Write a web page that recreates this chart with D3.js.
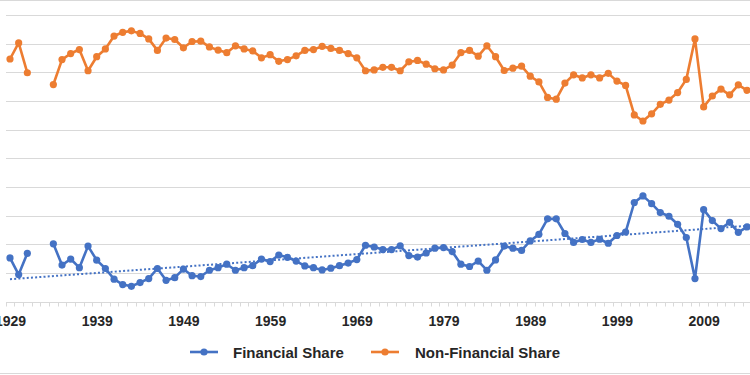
<!DOCTYPE html>
<html>
<head>
<meta charset="utf-8">
<script src="https://cdn.jsdelivr.net/npm/d3@7/dist/d3.min.js"></script>
<style>
  html, body { margin: 0; padding: 0; background: #fff; }
  svg { display: block; }
</style>
</head>
<body>
<svg id="chart" width="750" height="375"></svg>
<script>
// ---- data ----
const years = d3.range(1929, 2015);
const financialShare = [
  15.3, 9.5, 16.9, null, null, 20.2, 12.8, 14.9, 11.9, 19.4,
  14.5, 11.6, 7.9, 6.0, 5.4, 6.7, 8.1, 11.6, 7.5, 8.4,
  11.4, 9.1, 8.8, 11.0, 11.9, 13.1, 11.0, 11.9, 12.6, 14.9,
  14.0, 16.3, 15.5, 14.2, 12.5, 11.9, 11.1, 11.7, 12.6, 13.5,
  14.7, 19.7, 19.1, 18.2, 18.2, 19.5, 16.1, 15.6, 17.0, 18.7,
  18.9, 17.5, 13.1, 12.3, 14.2, 11.0, 14.6, 19.4, 18.7, 17.9,
  21.2, 23.5, 28.9, 28.9, 23.8, 20.7, 21.7, 20.7, 21.8, 20.4,
  23.1, 24.3, 34.6, 36.9, 34.2, 31.1, 29.8, 27.0, 22.4, 8.1,
  32.1, 28.3, 25.5, 27.7, 24.2, 26.1
];
const nonFinancialShare = [
  84.6, 90.2, 79.8, null, null, 75.7, 84.4, 86.5, 87.9, 80.5,
  85.4, 88.1, 92.6, 93.9, 94.4, 93.5, 91.6, 87.6, 91.9, 91.4,
  88.5, 90.7, 90.8, 88.8, 87.7, 86.8, 89.2, 88.1, 87.4, 85.0,
  86.1, 83.8, 84.4, 85.7, 87.6, 87.9, 89.0, 88.3, 87.6, 86.5,
  85.0, 80.5, 80.8, 81.7, 81.7, 80.5, 83.6, 84.1, 82.8, 81.2,
  80.8, 82.5, 86.8, 87.6, 85.6, 89.2, 85.4, 80.6, 81.4, 82.1,
  78.6, 76.6, 71.2, 70.6, 76.2, 79.1, 78.0, 79.1, 78.0, 79.6,
  76.9, 75.4, 65.1, 63.0, 65.5, 68.8, 70.3, 72.9, 77.5, 91.6,
  67.9, 71.7, 74.1, 72.1, 75.6, 73.7
];
const tickYears = [1929, 1939, 1949, 1959, 1969, 1979, 1989, 1999, 2009];
const gridValues = [10, 20, 30, 40, 50, 60, 70, 80, 90, 100];
const seriesNames = ["Financial Share", "Non-Financial Share"];
const seriesColors = ["#4472C4", "#ED7D31"];

// ---- layout ----
const svg = d3.select("#chart");
const W = 750, H = 375;
const plotLeft = 6, plotRight = 750;
const x = d3.scaleLinear().domain([1929, 2014]).range([10, 747]);
const y = d3.scaleLinear().domain([0, 100]).range([301.8, 14.8]);
const step = x(1930) - x(1929);

// borders (chart area frame)
svg.append("line").attr("x1", 0).attr("x2", W).attr("y1", 0.5).attr("y2", 0.5)
  .attr("stroke", "#d9d9d9").attr("stroke-width", 1);
svg.append("line").attr("x1", 0).attr("x2", W).attr("y1", 373.5).attr("y2", 373.5)
  .attr("stroke", "#d9d9d9").attr("stroke-width", 1);

// gridlines
svg.append("g").selectAll("line").data(gridValues).join("line")
  .attr("x1", plotLeft).attr("x2", plotRight)
  .attr("y1", d => Math.round(y(d)) + 0.5).attr("y2", d => Math.round(y(d)) + 0.5)
  .attr("stroke", "#d9d9d9").attr("stroke-width", 1);

// x axis
const axisY = Math.round(y(0)) + 0.5;
const xAxis = d3.axisBottom(x).tickValues(tickYears).tickFormat(d3.format("d"))
  .tickSize(0).tickPadding(14);
const gx = svg.append("g").attr("transform", `translate(0,${axisY})`).call(xAxis);
gx.select(".domain").remove();
gx.selectAll("text")
  .attr("font-family", "'Liberation Sans', Arial, sans-serif")
  .attr("font-weight", "bold").attr("font-size", "14px").attr("fill", "#262626");
svg.append("line").attr("x1", plotLeft).attr("x2", plotRight)
  .attr("y1", axisY).attr("y2", axisY).attr("stroke", "#d9d9d9").attr("stroke-width", 1);
// category boundary tick marks
const boundaries = d3.range(1929, 2016).map(yr => yr - 0.5);
svg.append("g").selectAll("line").data(boundaries).join("line")
  .attr("x1", d => Math.round(x(d)) + 0.5).attr("x2", d => Math.round(x(d)) + 0.5)
  .attr("y1", axisY).attr("y2", axisY + 4)
  .attr("stroke", "#d9d9d9").attr("stroke-width", 1);

// series
const seriesData = [financialShare, nonFinancialShare];
const line = d3.line()
  .defined(d => d.v !== null)
  .x(d => x(d.year)).y(d => y(d.v));

seriesData.forEach((vals, i) => {
  const pts = years.map((yr, j) => ({ year: yr, v: vals[j] }));
  const g = svg.append("g");
  g.append("path").datum(pts).attr("d", line)
    .attr("fill", "none").attr("stroke", seriesColors[i])
    .attr("stroke-width", 2.6).attr("stroke-linejoin", "round");
  g.selectAll("circle").data(pts.filter(d => d.v !== null)).join("circle")
    .attr("cx", d => x(d.year)).attr("cy", d => y(d.v)).attr("r", 3.6)
    .attr("fill", seriesColors[i]);

  if (i === 0) {
    // linear trendline (least squares)
    const valid = pts.filter(d => d.v !== null);
    const n = valid.length;
    const mx = d3.mean(valid, d => d.year), my = d3.mean(valid, d => d.v);
    const sxy = d3.sum(valid, d => (d.year - mx) * (d.v - my));
    const sxx = d3.sum(valid, d => (d.year - mx) ** 2);
    const b = sxy / sxx, a = my - b * mx;
    const y0 = years[0], y1 = years[years.length - 1];
    svg.append("line")
      .attr("x1", x(y0)).attr("y1", y(a + b * y0))
      .attr("x2", x(y1)).attr("y2", y(a + b * y1))
      .attr("stroke", seriesColors[0]).attr("stroke-width", 2)
      .attr("stroke-dasharray", "2,2.2");
  }
});

// legend
const legendY = 352;
const legendItems = [
  { name: seriesNames[0], color: seriesColors[0], lx: 190, tx: 233 },
  { name: seriesNames[1], color: seriesColors[1], lx: 371, tx: 415 }
];
const lg = svg.append("g");
legendItems.forEach(it => {
  lg.append("line").attr("x1", it.lx).attr("x2", it.lx + 28)
    .attr("y1", legendY).attr("y2", legendY)
    .attr("stroke", it.color).attr("stroke-width", 2.6);
  lg.append("circle").attr("cx", it.lx + 14).attr("cy", legendY).attr("r", 3.6)
    .attr("fill", it.color);
  lg.append("text").attr("x", it.tx).attr("y", legendY + 5.5)
    .attr("font-family", "'Liberation Sans', Arial, sans-serif")
    .attr("font-weight", "bold").attr("font-size", "15px").attr("fill", "#262626")
    .text(it.name);
});
</script>
</body>
</html>
